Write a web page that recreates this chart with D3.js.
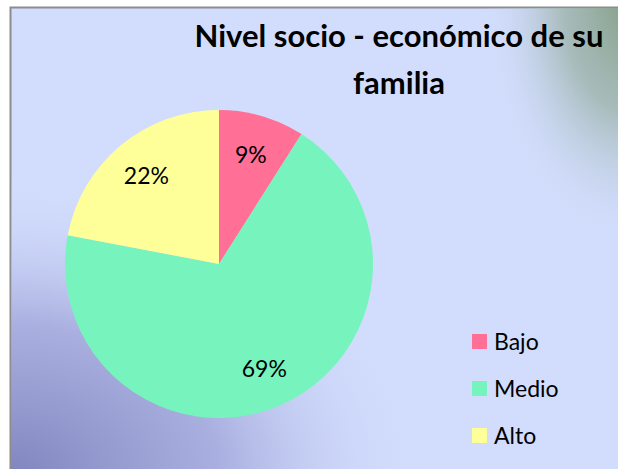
<!DOCTYPE html>
<html>
<head>
<meta charset="utf-8">
<script src="https://cdn.jsdelivr.net/npm/d3@7"></script>
<style>
  body { margin: 0; background: #fff; }
  text { font-family: Lato, "Open Sans", sans-serif; }
</style>
</head>
<body>
<div id="chart"></div>
<script>
// Data
const categories = ["Bajo", "Medio", "Alto"];
const values = [9, 69, 22];
const colors = ["#FF6F96", "#77F4BE", "#FFFF99"];

const width = 618, height = 469;

const svg = d3.select("#chart")
  .append("svg")
  .attr("width", width)
  .attr("height", height);

const defs = svg.append("defs");

// background: light lavender, darker towards bottom-left, grey-green at top-right
const gBL = defs.append("radialGradient")
  .attr("id", "bl").attr("gradientUnits", "userSpaceOnUse")
  .attr("cx", 0).attr("cy", 0).attr("r", 1)
  .attr("gradientTransform", "translate(10,475) scale(420,300)");
gBL.append("stop").attr("offset", 0).attr("stop-color", "#8085BE").attr("stop-opacity", 1);
gBL.append("stop").attr("offset", 0.5).attr("stop-color", "#A2A7DA").attr("stop-opacity", 0.85);
gBL.append("stop").attr("offset", 1).attr("stop-color", "#D2DDFD").attr("stop-opacity", 0);

const gTR = defs.append("radialGradient")
  .attr("id", "tr").attr("gradientUnits", "userSpaceOnUse")
  .attr("cx", 0).attr("cy", 0).attr("r", 1)
  .attr("gradientTransform", "translate(630,0) scale(150,250)");
gTR.append("stop").attr("offset", 0).attr("stop-color", "#84A088").attr("stop-opacity", 1);
gTR.append("stop").attr("offset", 0.45).attr("stop-color", "#A3B8B4").attr("stop-opacity", 0.9);
gTR.append("stop").attr("offset", 1).attr("stop-color", "#D2DDFD").attr("stop-opacity", 0);

svg.append("rect")
  .attr("x", 10.5).attr("y", 7.5)
  .attr("width", width).attr("height", height)
  .attr("fill", "#D2DDFD")
  .attr("stroke", "#8C8C8C").attr("stroke-width", 2);
svg.append("rect").attr("x", 11).attr("y", 8).attr("width", width).attr("height", height).attr("fill", "url(#bl)");
svg.append("rect").attr("x", 11).attr("y", 8).attr("width", width).attr("height", height).attr("fill", "url(#tr)");

// Title
const title = svg.append("text")
  .attr("text-anchor", "middle")
  .attr("font-weight", "bold")
  .attr("font-size", 31)
  .attr("fill", "#000");
title.append("tspan").attr("x", 399).attr("y", 47).text("Nivel socio - económico de su");
title.append("tspan").attr("x", 399).attr("y", 94).text("familia");

// Pie
const cx = 219, cy = 264, radius = 154;
const pie = d3.pie().sort(null).value(d => d);
const arcs = pie(values);
const arc = d3.arc().innerRadius(0).outerRadius(radius);
const labelArc = d3.arc().innerRadius(radius * 0.74).outerRadius(radius * 0.74);

const g = svg.append("g").attr("transform", `translate(${cx},${cy})`);

g.selectAll("path")
  .data(arcs)
  .enter()
  .append("path")
  .attr("d", arc)
  .attr("fill", (d, i) => colors[i]);

g.selectAll(".lbl")
  .data(arcs)
  .enter()
  .append("text")
  .attr("class", "lbl")
  .attr("transform", d => `translate(${labelArc.centroid(d)})`)
  .attr("text-anchor", "middle")
  .attr("dy", "0.35em")
  .attr("font-size", 23)
  .text(d => d.data + "%");

// Legend
const legend = svg.append("g").attr("transform", "translate(472,334)");
const item = legend.selectAll("g")
  .data(categories)
  .enter()
  .append("g")
  .attr("transform", (d, i) => `translate(0,${i * 47})`);
item.append("rect")
  .attr("width", 15).attr("height", 15)
  .attr("fill", (d, i) => colors[i]);
item.append("text")
  .attr("x", 22).attr("y", 8)
  .attr("dy", "0.35em")
  .attr("font-size", 23)
  .text(d => d);
</script>
</body>
</html>
